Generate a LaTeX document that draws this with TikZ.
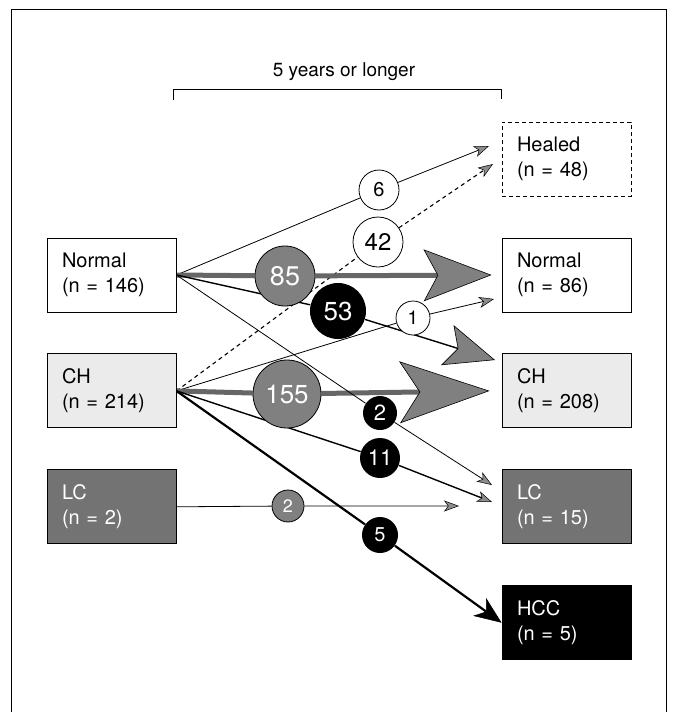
\documentclass[tikz,border=0pt]{standalone}
\usepackage{fontspec}
\setmainfont{TeX Gyre Heros}
\usetikzlibrary{arrows.meta,positioning,backgrounds}
\newcommand{\bxfont}{\fontsize{20}{25}\selectfont}
\newcommand{\numfont}[1]{\fontsize{#1}{#1}\selectfont}
\tikzset{
    %Define style for boxes
    box/.style={
           rectangle,
           draw=black,
           line width=0.9pt,
           text width=99pt,
           inner xsep=15pt,
           minimum height=74pt,
           align=left,
           font=\bxfont},
    chbox/.style={fill=black!8},
    lcbox/.style={fill=black!55, text=white},
    hccbox/.style={fill=black, text=white},
    % Define style for the counts
    num/.style={circle, inner sep=0pt, line width=0.8pt},
    wnum/.style={num, draw, fill=white},
    bnum/.style={num, fill=black, text=white},
    gnum/.style={num, draw, fill=black!50, text=white},
    % Define arrow styles
    flow/.style={
           line width=0.8pt,
           -{Stealth[length=15pt,width=11pt,inset=4pt,line width=0.5pt,fill=black!45]}},
    band/.style={line width=5pt, draw=black!60},
    bigtip/.style n args={3}{
           -{Stealth[length=#1,width=#2,inset=#3,line width=0.6pt,color=black,fill=black!50]}}
}

\begin{document}
\begin{tikzpicture}[x=1pt, y=-1pt, node distance=41pt]
  \useasboundingbox (0,0) rectangle (674,712);
  \draw[line width=0.9pt] (11,712) -- (11,9) -- (666,9) -- (666,712);
  % time span
  \node[font=\fontsize{19}{23}\selectfont] (span) at (344,72) {5 years or longer};
  \coordinate (sl) at (173,89);
  \coordinate (sr) at (501,89);
  \draw[line width=0.9pt] ([yshift=-11pt]sl) -- (sl) -- (sr) -- ([yshift=-10pt]sr);
  % before
  \node[box] (nl) at (111.5,275) {Normal\\(n = 146)};
  \node[box,chbox,below=of nl] (cl) {CH\\(n = 214)};
  \node[box,lcbox,below=of cl] (ll) {LC\\(n = 2)};
  % after
  \node[box] (nr) at (566.5,275) {Normal\\(n = 86)};
  \node[box,dashed,dash pattern=on 4pt off 3pt,above=of nr] (hr) {Healed\\(n = 48)};
  \node[box,chbox,below=of nr] (cr) {CH\\(n = 208)};
  \node[box,lcbox,below=of cr] (lr) {LC\\(n = 15)};
  \node[box,hccbox,below=of lr] (hc) {HCC\\(n = 5)};
  % counts
  \node[wnum,minimum size=40pt,font=\numfont{20}] (n6) at (379,190) {6};
  \node[wnum,minimum size=50pt,font=\numfont{24}] (n42) at (378,242) {42};
  \node[gnum,minimum size=60pt,font=\numfont{27}] (n85) at (285,276) {85};
  \node[bnum,minimum size=56pt,font=\numfont{26}] (n53) at (338,311) {53};
  \node[wnum,minimum size=34pt,font=\numfont{19}] (n1) at (413,318) {1};
  \node[gnum,minimum size=68pt,font=\numfont{26}] (n155) at (287,394) {155};
  \node[bnum,minimum size=34pt,font=\numfont{22}] (n2a) at (380,413) {2};
  \node[bnum,minimum size=40pt,font=\numfont{22}] (n11) at (380,458) {11};
  \node[gnum,minimum size=32pt,font=\numfont{18}] (n2b) at (288,506) {2};
  \node[bnum,minimum size=36pt,font=\numfont{20}] (n5) at (380,535) {5};
  % arrow ends
  \coordinate (e6) at (489,146);
  \coordinate (e42) at (493,164);
  \coordinate (e53) at (495,360);
  \coordinate (e1) at (494,299);
  \coordinate (e2a) at (492,485);
  \coordinate (e11) at (492,502);
  \coordinate (e2b) at (459,506);
  \begin{pgfonlayer}{background}
    \draw[flow] (nl.east) -- (n6) -- (e6);
    \draw[flow,dash pattern=on 4pt off 3.5pt,line width=1.1pt] (cl.east) -- (n42) -- (e42);
    \draw[band,bigtip={68pt}{52pt}{14pt}] (nl.east) -- (n85) -- ([xshift=-10pt]nr.west);
    \draw[line width=1.4pt,bigtip={50pt}{42pt}{11pt}] (nl.east) -- (n53) -- (e53);
    \draw[flow] (cl.east) -- (n1) -- (e1);
    \draw[band,bigtip={90pt}{62pt}{20pt}] (cl.east) -- (n155) -- ([xshift=-12pt]cr.west);
    \draw[flow] (nl.east) -- (n2a) -- (e2a);
    \draw[flow,line width=1.4pt] (cl.east) -- (n11) -- (e11);
    \draw[flow] (ll.east) -- (n2b) -- (e2b);
    \draw[line width=2.2pt,-{Stealth[length=27pt,width=22pt,inset=8pt,line width=0.5pt]}]
      (cl.east) -- (n5) -- (hc.west);
  \end{pgfonlayer}
\end{tikzpicture}
\end{document}
